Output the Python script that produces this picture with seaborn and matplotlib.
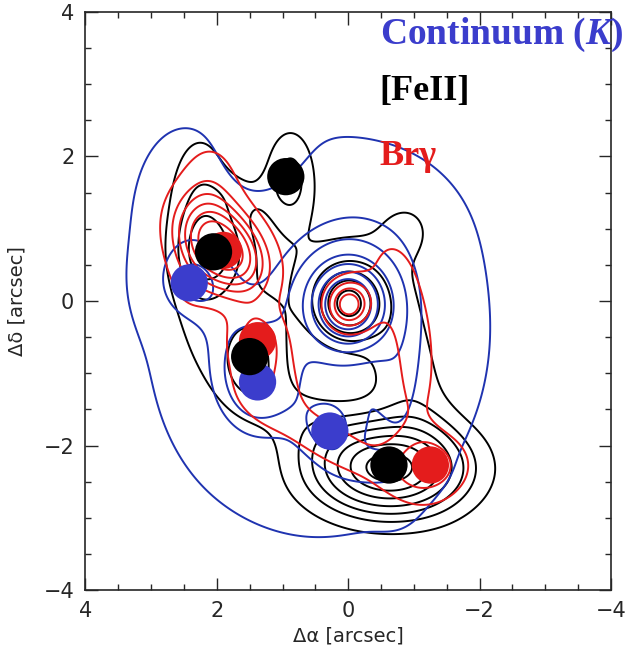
import numpy as np
import pandas as pd
import matplotlib
matplotlib.use("Agg")
import matplotlib.pyplot as plt
import seaborn as sns

# emission components (x, y in arcsec; amp; sigma_x, sigma_y; angle deg)
cont_x = [0.45, 2.55, 1.30, -0.5, 0.00, 0.00, 2.42, 1.38, 0.28, -0.35, -0.8, 1.9]
cont_y = [-0.55, 1.30, 2.10, 1.1, -0.05, 0.10, 0.25, -1.10, -1.80, -2.35, -1.2, -0.4]
cont_amp = [1.0, 0.5, -0.45, 0.25, 7.5, 1.0, 1.0, 1.3, 1.0, 0.8, 0.55, 0.3]
cont_sx = [1.70, 0.50, 0.40, 0.8, 0.32, 0.75, 0.40, 0.45, 0.35, 0.45, 0.30, 0.35]
cont_sy = [1.80, 0.80, 0.45, 0.6, 0.32, 0.70, 0.40, 0.55, 0.35, 0.20, 0.90, 0.70]
cont_ang = [0, 0, 0, 0, 0, 0, 0, 0, 0, 0, 0, 0]
cont_levels = [0.32, 1.15, 1.6, 2.4, 3.4, 4.6, 6.0]

fe_x = [2.25, 0.88, 1.55, 2.3, 2.05, 0.00, 0.1, 1.5, -0.62, -0.9, 0.6, -0.9]
fe_y = [1.45, 1.70, 1.50, 0.1, 0.68, -0.05, 0.3, -0.77, -2.32, -1.0, -1.7, 1.0]
fe_amp = [0.8, 1.3, 0.4, 0.6, 1.5, 3.0, 0.7, 1.3, 5.0, 0.8, 0.6, 0.5]
fe_sx = [0.35, 0.25, 0.40, 0.35, 0.35, 0.30, 0.8, 0.35, 0.75, 0.40, 0.9, 0.3]
fe_sy = [0.70, 0.45, 0.22, 0.90, 0.40, 0.30, 0.6, 0.50, 0.42, 0.90, 0.35, 0.3]
fe_ang = [0, 0, 0, 0, 0, 0, 0, 0, 0, -15, 27, 0]
fe_levels = [0.5, 1.1, 1.7, 2.4, 3.2, 4.0, 4.8]

br_x = [1.9, 0.00, 1.38, -1.25, 2.1, 2.45, 0.3, -1.05, -0.6, 1.2]
br_y = [0.72, -0.05, -0.55, -2.27, 1.6, 0.3, -1.95, -0.9, 0.35, -1.1]
br_amp = [4.0, 2.5, 1.4, 1.5, 0.8, 0.45, 0.75, 0.7, 0.6, 0.8]
br_sx = [0.52, 0.23, 0.30, 0.40, 0.35, 0.30, 1.10, 0.30, 0.35, 0.35]
br_sy = [0.36, 0.23, 0.30, 0.30, 0.50, 0.60, 0.30, 0.90, 0.60, 0.35]
br_ang = [42, 0, 0, 0, 0, 0, 27, 0, 0, 0]
br_levels = [0.55, 1.2, 1.7, 2.2, 2.7, 3.3]

# knots
knot_x = [2.42, 1.38, 0.28, 1.90, 1.38, -1.25, 2.05, 0.95, 1.50, -0.62]
knot_y = [0.25, -1.12, -1.80, 0.70, -0.55, -2.27, 0.68, 1.72, -0.77, -2.27]
knot_line = ["Continuum"] * 3 + ["Brg"] * 3 + ["FeII"] * 4

blue = "#1f33b0"
blue_dot = "#3b3dcc"
red = "#e41c1c"


def field(X, Y, xs, ys, amps, sxs, sys_, angs):
    Z = np.zeros_like(X)
    for x0, y0, a, sx, sy, ang in zip(xs, ys, amps, sxs, sys_, angs):
        t = np.deg2rad(ang)
        dx = X - x0
        dy = Y - y0
        u = dx * np.cos(t) + dy * np.sin(t)
        v = -dx * np.sin(t) + dy * np.cos(t)
        Z += a * np.exp(-0.5 * ((u / sx) ** 2 + (v / sy) ** 2))
    return Z


g = np.linspace(-4, 4, 401)
X, Y = np.meshgrid(g, g)

sns.set_style("ticks")
plt.rcParams["mathtext.fontset"] = "custom"
plt.rcParams["mathtext.it"] = "Liberation Serif:italic:bold"
plt.rcParams["mathtext.rm"] = "Liberation Serif:bold"

fig = plt.figure(figsize=(6.28, 6.6), dpi=100)
ax = fig.add_axes([0.136, 0.106, 0.837, 0.876])

ax.contour(X, Y, field(X, Y, fe_x, fe_y, fe_amp, fe_sx, fe_sy, fe_ang),
           levels=fe_levels, colors="black", linewidths=1.4)
ax.contour(X, Y, field(X, Y, cont_x, cont_y, cont_amp, cont_sx, cont_sy, cont_ang),
           levels=cont_levels, colors=blue, linewidths=1.4)
ax.contour(X, Y, field(X, Y, br_x, br_y, br_amp, br_sx, br_sy, br_ang),
           levels=br_levels, colors=red, linewidths=1.4)

knots = pd.DataFrame({"x": knot_x, "y": knot_y, "line": knot_line})
sns.scatterplot(data=knots, x="x", y="y", hue="line",
                palette={"Continuum": blue_dot, "Brg": red, "FeII": "black"},
                s=720, edgecolor="none", legend=False, zorder=5, ax=ax)

ax.set_xlim(4, -4)
ax.set_ylim(-4, 4)
ax.set_xticks([4, 2, 0, -2, -4])
ax.set_yticks([-4, -2, 0, 2, 4])
ax.set_xticks(np.arange(-4, 4.01, 0.5), minor=True)
ax.set_yticks(np.arange(-4, 4.01, 0.5), minor=True)
ax.tick_params(which="both", direction="in", top=True, right=True, labelsize=15, pad=8)
ax.tick_params(which="major", length=9, width=1)
ax.tick_params(which="minor", length=4.5, width=1)
for sp in ax.spines.values():
    sp.set_linewidth(1.2)
ax.set_xlabel("Δα [arcsec]", fontsize=14, labelpad=4)
ax.set_ylabel("Δδ [arcsec]", fontsize=14, labelpad=12)

txt = dict(transform=ax.transAxes, fontweight="bold",
           family="Liberation Serif", va="center", ha="left", zorder=6)
ax.text(0.56, 0.96, "Continuum ($K$)", color=blue_dot, fontsize=27, **txt)
ax.text(0.56, 0.862, "[FeII]", color="black", fontsize=26, **txt)
ax.text(0.56, 0.75, "Brγ", color=red, fontsize=26, **txt)

fig.savefig("out.png", dpi=100)
